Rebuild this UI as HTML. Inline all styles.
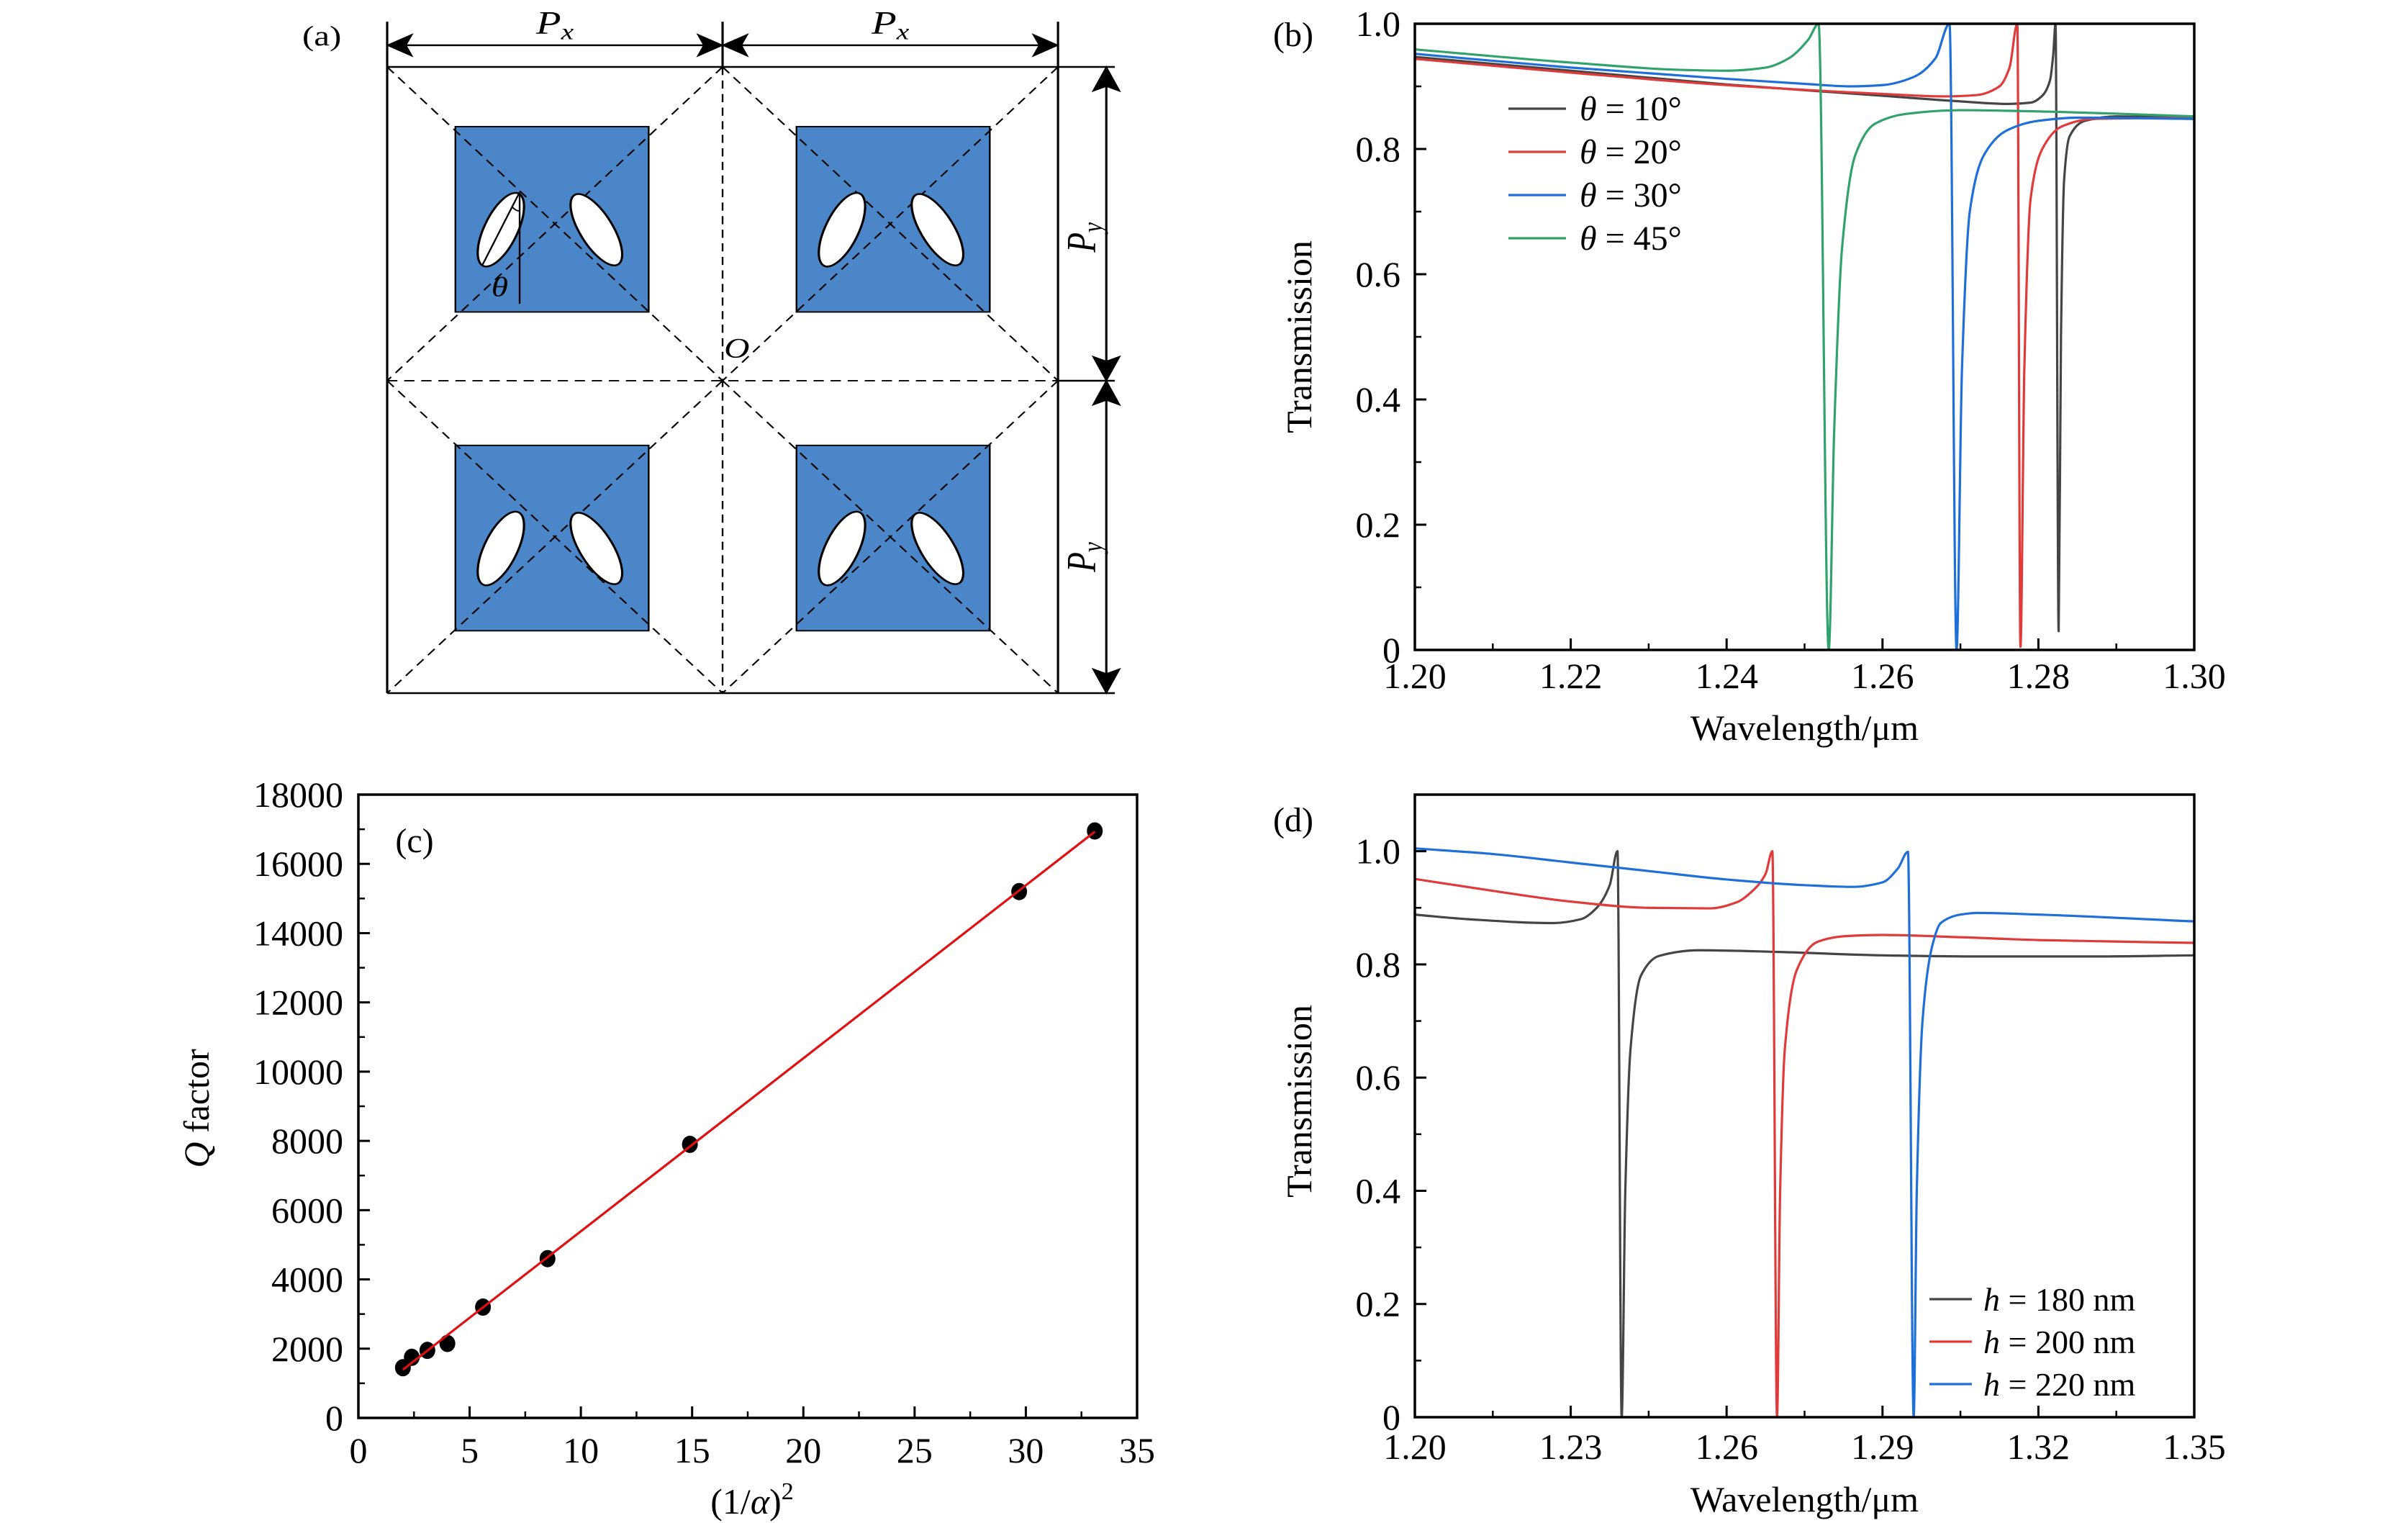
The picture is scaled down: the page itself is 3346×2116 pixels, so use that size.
<!DOCTYPE html>
<html><head><meta charset="utf-8">
<style>
html,body{margin:0;padding:0;background:#fff;}
#root{position:relative;width:3346px;height:2116px;overflow:hidden;background:#fff;}
svg{position:absolute;}
text{font-family:"Liberation Serif","DejaVu Serif",serif;fill:#000;}
</style></head>
<body>
<div id="root">
<svg id="pa" style="left:380px;top:0" width="1226" height="980" viewBox="0 0 1552 1560" preserveAspectRatio="none">
  <g stroke="#000" stroke-width="4" fill="none">
    <line x1="200" y1="48" x2="200" y2="1533"/>
    <line x1="1380" y1="48" x2="1380" y2="1533"/>
    <line x1="790" y1="48" x2="790" y2="148"/>
    <line x1="200" y1="148" x2="1480" y2="148"/>
    <line x1="200" y1="1533" x2="1480" y2="1533"/>
    <line x1="1380" y1="842" x2="1480" y2="842"/>
  </g>
  <g fill="#4a86c8" stroke="#000" stroke-width="3">
    <rect x="320" y="280" width="340" height="410"/>
    <rect x="920" y="280" width="340" height="410"/>
    <rect x="320" y="985" width="340" height="410"/>
    <rect x="920" y="985" width="340" height="410"/>
  </g>
  <g stroke="#000" stroke-width="3" stroke-dasharray="18,12" fill="none">
    <line x1="790" y1="148" x2="790" y2="1533"/>
    <line x1="200" y1="842" x2="1380" y2="842"/>
    <line x1="200" y1="148" x2="790" y2="842"/>
    <line x1="790" y1="148" x2="200" y2="842"/>
    <line x1="790" y1="148" x2="1380" y2="842"/>
    <line x1="1380" y1="148" x2="790" y2="842"/>
    <line x1="200" y1="842" x2="790" y2="1533"/>
    <line x1="790" y1="842" x2="200" y2="1533"/>
    <line x1="790" y1="842" x2="1380" y2="1533"/>
    <line x1="1380" y1="842" x2="790" y2="1533"/>
  </g>
  <g fill="#fff" stroke="#000" stroke-width="4">
    <ellipse cx="400" cy="508" rx="30" ry="86" transform="rotate(20 400 508)"/>
    <ellipse cx="568" cy="508" rx="30" ry="86" transform="rotate(-25 568 508)"/>
    <ellipse cx="1000" cy="508" rx="30" ry="86" transform="rotate(20 1000 508)"/>
    <ellipse cx="1168" cy="508" rx="30" ry="86" transform="rotate(-25 1168 508)"/>
    <ellipse cx="400" cy="1213" rx="30" ry="86" transform="rotate(20 400 1213)"/>
    <ellipse cx="568" cy="1213" rx="30" ry="86" transform="rotate(-25 568 1213)"/>
    <ellipse cx="1000" cy="1213" rx="30" ry="86" transform="rotate(20 1000 1213)"/>
    <ellipse cx="1168" cy="1213" rx="30" ry="86" transform="rotate(-25 1168 1213)"/>
  </g>
  <g stroke="#000" stroke-width="3" fill="none">
    <line x1="433" y1="425" x2="433" y2="672"/>
    <line x1="433" y1="425" x2="368" y2="585"/>
    <path d="M420 458 Q428 468 433 466"/>
  </g>
  <text x="398" y="655" font-size="60" font-style="italic" text-anchor="middle">θ</text>
  <text x="815" y="790" font-size="62" font-style="italic" text-anchor="middle">O</text>
  <g stroke="#000" stroke-width="4" fill="#000">
    <line x1="215" y1="100" x2="775" y2="100"/>
    <line x1="805" y1="100" x2="1365" y2="100"/>
    <line x1="1465" y1="165" x2="1465" y2="825"/>
    <line x1="1465" y1="860" x2="1465" y2="1516"/>
    <path d="M202 100 L242 78 L232 100 L242 122 Z"/>
    <path d="M788 100 L748 78 L758 100 L748 122 Z"/>
    <path d="M792 100 L832 78 L822 100 L832 122 Z"/>
    <path d="M1378 100 L1338 78 L1348 100 L1338 122 Z"/>
    <path d="M1465 150 L1443 200 L1465 190 L1487 200 Z"/>
    <path d="M1465 840 L1443 790 L1465 800 L1487 790 Z"/>
    <path d="M1465 844 L1443 894 L1465 884 L1487 894 Z"/>
    <path d="M1465 1531 L1443 1481 L1465 1491 L1487 1481 Z"/>
  </g>
  <text x="495" y="75" font-size="72" text-anchor="middle"><tspan font-style="italic">P</tspan><tspan font-size="50" font-style="italic" dy="12">x</tspan></text>
  <text x="1085" y="75" font-size="72" text-anchor="middle"><tspan font-style="italic">P</tspan><tspan font-size="50" font-style="italic" dy="12">x</tspan></text>
  <text transform="translate(1445 525) rotate(-90)" font-size="72" text-anchor="middle"><tspan font-style="italic">P</tspan><tspan font-size="50" font-style="italic" dy="12">y</tspan></text>
  <text transform="translate(1445 1232) rotate(-90)" font-size="72" text-anchor="middle"><tspan font-style="italic">P</tspan><tspan font-size="50" font-style="italic" dy="12">y</tspan></text>
  <text x="85" y="100" font-size="62" text-anchor="middle">(a)</text>
</svg>
<svg id="charts" style="left:0;top:0" width="3346" height="2116"></svg>
</div>
<script>
// ---------- Panel (b) data ----------
const bTheta10X = [1.20,1.22,1.24,1.26,1.27,1.276,1.279,1.2805,1.2815,1.2819,1.2822,1.2826,1.2829,1.2833,1.284,1.286,1.29,1.30];
const bTheta10Y = [0.947,0.925,0.903,0.885,0.876,0.872,0.874,0.885,0.91,0.95,1.0,0.03,0.5,0.75,0.82,0.845,0.852,0.85];
const bTheta20X = [1.20,1.22,1.24,1.26,1.268,1.272,1.275,1.2763,1.2773,1.2777,1.2782,1.279,1.2805,1.283,1.287,1.30];
const bTheta20Y = [0.944,0.922,0.902,0.888,0.884,0.886,0.9,0.93,1.0,0.005,0.45,0.72,0.8,0.836,0.848,0.85];
const bTheta30X = [1.20,1.22,1.24,1.25,1.256,1.26,1.264,1.2668,1.2686,1.2695,1.2702,1.2712,1.273,1.276,1.28,1.285,1.30];
const bTheta30Y = [0.952,0.93,0.912,0.904,0.9,0.902,0.915,0.945,1.0,0.0,0.45,0.7,0.79,0.83,0.845,0.85,0.848];
const bTheta45X = [1.20,1.22,1.235,1.24,1.245,1.248,1.2505,1.2518,1.2531,1.2538,1.2548,1.2565,1.259,1.263,1.27,1.28,1.30];
const bTheta45Y = [0.959,0.938,0.926,0.925,0.93,0.945,0.975,1.0,0.0,0.35,0.64,0.79,0.84,0.856,0.862,0.86,0.852];
const bXTicks = [1.20,1.22,1.24,1.26,1.28,1.30];
const bXTickLabels = ["1.20","1.22","1.24","1.26","1.28","1.30"];
const bYTicks = [0,0.2,0.4,0.6,0.8,1.0];
const bYTickLabels = ["0","0.2","0.4","0.6","0.8","1.0"];
const bLegendLabels = ["10°","20°","30°","45°"];

// ---------- Panel (d) data ----------
const dH180X = [1.20,1.21,1.2265,1.232,1.235,1.2375,1.239,1.2398,1.2405,1.2415,1.2435,1.247,1.2547,1.27,1.29,1.31,1.33,1.35];
const dH180Y = [0.888,0.88,0.873,0.88,0.9,0.94,1.0,0.0,0.4,0.65,0.78,0.815,0.825,0.822,0.816,0.814,0.814,0.816];
const dH200X = [1.20,1.215,1.23,1.245,1.2568,1.262,1.265,1.2675,1.2688,1.2697,1.2703,1.2712,1.2735,1.2775,1.2829,1.29,1.305,1.32,1.35];
const dH200Y = [0.951,0.93,0.911,0.9,0.899,0.91,0.93,0.96,1.0,0.0,0.4,0.65,0.79,0.84,0.85,0.852,0.848,0.843,0.838];
const dH220X = [1.20,1.215,1.23,1.245,1.26,1.275,1.2843,1.29,1.293,1.2949,1.296,1.2966,1.2977,1.2995,1.3012,1.305,1.3083,1.32,1.35];
const dH220Y = [1.005,0.995,0.98,0.965,0.95,0.94,0.937,0.945,0.97,0.999,0.0,0.4,0.7,0.83,0.873,0.888,0.891,0.888,0.876];
const dXTicks = [1.20,1.23,1.26,1.29,1.32,1.35];
const dXTickLabels = ["1.20","1.23","1.26","1.29","1.32","1.35"];
const dYTicks = [0,0.2,0.4,0.6,0.8,1.0];
const dYTickLabels = ["0","0.2","0.4","0.6","0.8","1.0"];
const dLegendLabels = ["180","200","220"];

// ---------- Panel (c) data ----------
const cAlphaInvSq = [2.0,2.4,3.1,4.0,5.6,8.5,14.9,29.7,33.1];
const cQFactor = [1450,1750,1950,2150,3200,4600,7900,15200,16950];
const cXTicks = [0,5,10,15,20,25,30,35];
const cXTickLabels = ["0","5","10","15","20","25","30","35"];
const cYTicks = [0,2000,4000,6000,8000,10000,12000,14000,16000,18000];
const cYTickLabels = ["0","2000","4000","6000","8000","10000","12000","14000","16000","18000"];

const NS = "http://www.w3.org/2000/svg";
const svg = document.getElementById("charts");
function mk(tag, attrs, parent) {
  const e = document.createElementNS(NS, tag);
  for (const k in attrs) e.setAttribute(k, attrs[k]);
  (parent || svg).appendChild(e);
  return e;
}
function lin(d0, d1, r0, r1) { return v => r0 + (v - d0) / (d1 - d0) * (r1 - r0); }

function monoPath(px, py) {
  const n = px.length;
  if (n < 2) return "";
  const dx = [], m = [], t = new Array(n);
  for (let i = 0; i < n - 1; i++) { dx.push(px[i+1]-px[i]); m.push((py[i+1]-py[i])/(px[i+1]-px[i] || 1e-6)); }
  t[0] = m[0]; t[n-1] = m[n-2];
  for (let i = 1; i < n - 1; i++) {
    if (m[i-1] * m[i] <= 0) t[i] = 0;
    else { const w1 = 2*dx[i]+dx[i-1], w2 = dx[i]+2*dx[i-1]; t[i] = (w1+w2)/(w1/m[i-1]+w2/m[i]); }
  }
  let d = "M" + px[0].toFixed(2) + " " + py[0].toFixed(2);
  for (let i = 0; i < n - 1; i++) {
    const h = dx[i] / 3;
    d += " C" + (px[i]+h).toFixed(2) + " " + (py[i]+t[i]*h).toFixed(2) + " " + (px[i+1]-h).toFixed(2) + " " + (py[i+1]-t[i+1]*h).toFixed(2) + " " + px[i+1].toFixed(2) + " " + py[i+1].toFixed(2);
  }
  return d;
}

function axesBox(g, L, R, T, B) {
  const r = mk("rect", {x:L, y:T, width:R-L, height:B-T, fill:"none", stroke:"#000", "stroke-width":3.5}, g);
  
  
}
function xTicks(g, sx, B, ticks, labels, minorStep, x0, x1, labelY, fs) {
  for (let i = 0; i < ticks.length; i++) {
    const x = sx(ticks[i]);
    mk("line", {x1:x, x2:x, y1:B, y2:B-16, stroke:"#000", "stroke-width":3}, g);
    const t = mk("text", {x:x, y:labelY, "font-size":fs, "text-anchor":"middle"}, g);
    t.textContent = labels[i];
    
    
  }
  for (let v = x0; v <= x1 + 1e-9; v += minorStep) {
    const x = sx(v);
    mk("line", {x1:x, x2:x, y1:B, y2:B-9, stroke:"#000", "stroke-width":2.5}, g);
  }
}
function yTicks(g, sy, L, ticks, labels, minorStep, y0, y1, labelX, fs) {
  for (let i = 0; i < ticks.length; i++) {
    const y = sy(ticks[i]);
    mk("line", {x1:L, x2:L+16, y1:y, y2:y, stroke:"#000", "stroke-width":3}, g);
    const t = mk("text", {x:labelX, y:y+17, "font-size":fs, "text-anchor":"end"}, g);
    t.textContent = labels[i];
    
    
  }
  for (let v = y0; v <= y1 + 1e-9; v += minorStep) {
    const y = sy(v);
    mk("line", {x1:L, x2:L+9, y1:y, y2:y, stroke:"#000", "stroke-width":2.5}, g);
  }
}
function drawLine(g, sx, sy, xs, ys, color, name) {
  const p = mk("path", {d: monoPath(xs.map(sx), ys.map(sy)), fill:"none", stroke:color, "stroke-width":3.2, "stroke-linejoin":"round"}, g);
  
  
}
function label(g, x, y, txt, fs, anchor, name, rot) {
  const t = mk("text", {x:x, y:y, "font-size":fs, "text-anchor":anchor || "middle"}, g);
  if (rot) t.setAttribute("transform", "rotate(-90 " + x + " " + y + ")");
  t.textContent = txt;
  
  
  return t;
}

const COL = {gray:"#454545", red:"#e03a3a", blue:"#1f6fd8", green:"#2fa36b"};

// ================= Panel (b) =================
(function(){
  const L=1966, R=3049, T=33, B=903;
  const g = mk("g", {});
  
  
  const sx = lin(1.20, 1.30, L, R), sy = lin(0, 1.0, B, T);
  const cl = mk("clipPath", {id:"clipb"}, g); mk("rect", {x:L, y:T-4, width:R-L, height:B-T+4}, cl);
  const lg = mk("g", {"clip-path":"url(#clipb)"}, g);
  drawLine(lg, sx, sy, bTheta10X, bTheta10Y, COL.gray, "series-theta-10");
  drawLine(lg, sx, sy, bTheta20X, bTheta20Y, COL.red, "series-theta-20");
  drawLine(lg, sx, sy, bTheta30X, bTheta30Y, COL.blue, "series-theta-30");
  drawLine(lg, sx, sy, bTheta45X, bTheta45Y, COL.green, "series-theta-45");
  axesBox(g, L, R, T, B);
  xTicks(g, sx, B, bXTicks, bXTickLabels, 0.01, 1.20, 1.30, 956, 50);
  yTicks(g, sy, L, bYTicks, bYTickLabels, 0.1, 0, 1.0, 1946, 50);
  label(g, (L+R)/2, 1028, "Wavelength/μm", 50, "middle", "x-axis-title");
  label(g, 1822, 468, "Transmission", 50, "middle", "y-axis-title", true);
  label(g, 1797, 64, "(b)", 48, "middle", "panel-b-label");
  const cols = [COL.gray, COL.red, COL.blue, COL.green];
  const rows = [151, 211, 271, 331];
  for (let i = 0; i < bLegendLabels.length; i++) {
    const lgd = mk("g", {}, g);
    
    
    mk("line", {x1:2096, x2:2176, y1:rows[i], y2:rows[i], stroke:cols[i], "stroke-width":3.2}, lgd);
    const t = mk("text", {x:2195, y:rows[i]+16, "font-size":48}, lgd);
    const a = mk("tspan", {"font-style":"italic"}, t); a.textContent = "θ";
    const b = mk("tspan", {}, t); b.textContent = " = " + bLegendLabels[i];
  }
})();

// ================= Panel (d) =================
(function(){
  const L=1966, R=3049, T=1104, B=1969;
  const g = mk("g", {});
  
  
  const sx = lin(1.20, 1.35, L, R), sy = lin(0, 1.1, B, T);
  const cl = mk("clipPath", {id:"clipd"}, g); mk("rect", {x:L, y:T, width:R-L, height:B-T}, cl);
  const lg = mk("g", {"clip-path":"url(#clipd)"}, g);
  drawLine(lg, sx, sy, dH180X, dH180Y, COL.gray, "series-h-180");
  drawLine(lg, sx, sy, dH200X, dH200Y, COL.red, "series-h-200");
  drawLine(lg, sx, sy, dH220X, dH220Y, COL.blue, "series-h-220");
  axesBox(g, L, R, T, B);
  xTicks(g, sx, B, dXTicks, dXTickLabels, 0.015, 1.20, 1.35, 2027, 50);
  yTicks(g, sy, L, dYTicks, dYTickLabels, 0.1, 0, 1.1, 1946, 50);
  label(g, (L+R)/2, 2100, "Wavelength/μm", 50, "middle", "x-axis-title");
  label(g, 1822, 1530, "Transmission", 50, "middle", "y-axis-title", true);
  label(g, 1797, 1155, "(d)", 48, "middle", "panel-d-label");
  const cols = [COL.gray, COL.red, COL.blue];
  const rows = [1805, 1864, 1923];
  for (let i = 0; i < dLegendLabels.length; i++) {
    const lgd = mk("g", {}, g);
    
    
    mk("line", {x1:2681, x2:2740, y1:rows[i], y2:rows[i], stroke:cols[i], "stroke-width":3.2}, lgd);
    const t = mk("text", {x:2756, y:rows[i]+16, "font-size":46}, lgd);
    const a = mk("tspan", {"font-style":"italic"}, t); a.textContent = "h";
    const b = mk("tspan", {}, t); b.textContent = " = " + dLegendLabels[i] + " nm";
  }
})();

// ================= Panel (c) =================
(function(){
  const L=498, R=1580, T=1104, B=1970;
  const g = mk("g", {});
  
  
  const sx = lin(0, 35, L, R), sy = lin(0, 18000, B, T);
  const n = cAlphaInvSq.length;
  let mx=0,my=0; for (let i=0;i<n;i++){mx+=cAlphaInvSq[i];my+=cQFactor[i];} mx/=n; my/=n;
  let sxy=0,sxx=0; for (let i=0;i<n;i++){sxy+=(cAlphaInvSq[i]-mx)*(cQFactor[i]-my);sxx+=(cAlphaInvSq[i]-mx)**2;}
  const slope=sxy/sxx, icpt=my-slope*mx;
  const xa=Math.min(...cAlphaInvSq), xb=Math.max(...cAlphaInvSq);
  for (let i = 0; i < n; i++) {
    const c = mk("ellipse", {cx:sx(cAlphaInvSq[i]), cy:sy(cQFactor[i]), rx:11, ry:12, fill:"#000"}, g);
    
    
  }
  const fl = mk("line", {x1:sx(xa), y1:sy(slope*xa+icpt), x2:sx(xb), y2:sy(slope*xb+icpt), stroke:"#e01010", "stroke-width":3.2}, g);
  
  
  axesBox(g, L, R, T, B);
  xTicks(g, sx, B, cXTicks, cXTickLabels, 2.5, 0, 35, 2032, 50);
  yTicks(g, sy, L, cYTicks, cYTickLabels, 1000, 0, 18000, 477, 50);
  const xt = mk("text", {x:1045, y:2103, "font-size":50, "text-anchor":"middle"}, g);
  
  
  mk("tspan", {}, xt).textContent = "(1/";
  mk("tspan", {"font-style":"italic"}, xt).textContent = "α";
  mk("tspan", {}, xt).textContent = ")";
  mk("tspan", {"font-size":34, dy:-20}, xt).textContent = "2";
  const yt = mk("text", {x:290, y:1540, "font-size":50, "text-anchor":"middle", transform:"rotate(-90 290 1540)"}, g);
  
  
  mk("tspan", {"font-style":"italic"}, yt).textContent = "Q";
  mk("tspan", {}, yt).textContent = " factor";
  label(g, 576, 1184, "(c)", 48, "middle", "panel-c-label");
})();
</script>
</body></html>
